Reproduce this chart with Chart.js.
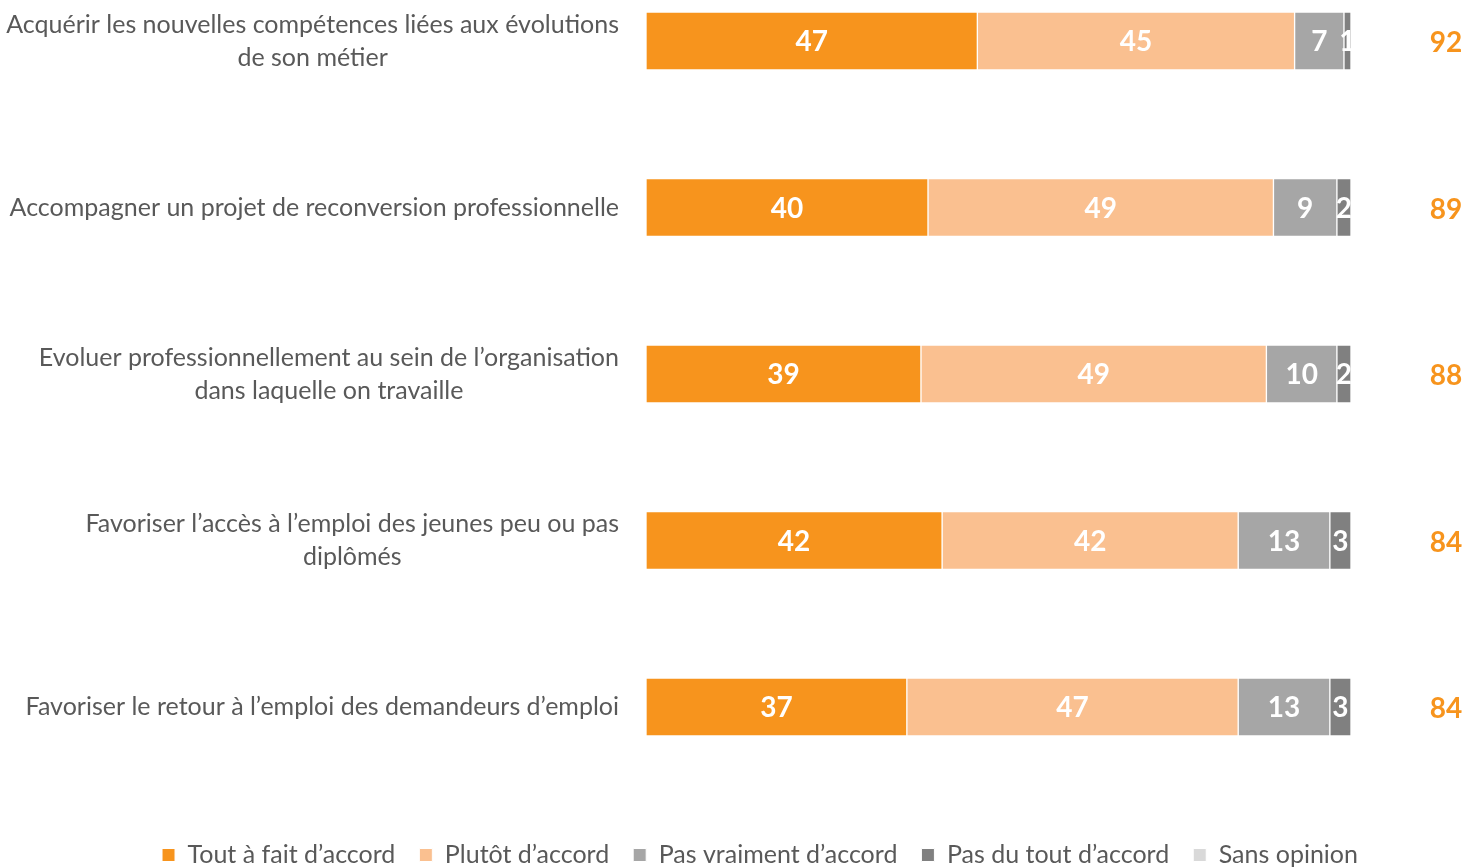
<!DOCTYPE html>
<html>
<head>
<meta charset="utf-8">
<script src="https://cdn.jsdelivr.net/npm/chart.js@4.4.0/dist/chart.umd.min.js"></script>
<style>
html,body{margin:0;padding:0;background:#fff;}
#wrap{width:1465px;height:867px;position:relative;}
</style>
</head>
<body>
<div id="wrap"><canvas id="c" width="1465" height="867"></canvas></div>
<script>
const categories = [
  ["Acquérir les nouvelles compétences liées aux évolutions", "de son métier"],
  ["Accompagner un projet de reconversion professionnelle"],
  ["Evoluer professionnellement au sein de l’organisation", "dans laquelle on travaille"],
  ["Favoriser l’accès à l’emploi des jeunes peu ou pas", "diplômés"],
  ["Favoriser le retour à l’emploi des demandeurs d’emploi"]
];
const seriesNames = ["Tout à fait d’accord", "Plutôt d’accord", "Pas vraiment d’accord", "Pas du tout d’accord", "Sans opinion"];
const toutAFait   = [47, 40, 39, 42, 37];
const plutot      = [45, 49, 49, 42, 47];
const pasVraiment = [7, 9, 10, 13, 13];
const pasDuTout   = [1, 2, 2, 3, 3];
const sansOpinion = [0, 0, 0, 0, 0];
const totals      = [92, 89, 88, 84, 84];
const colors = ["#F7941D", "#FAC090", "#A6A6A6", "#808080", "#D9D9D9"];

const FONT = "Lato";
const seriesData = [toutAFait, plutot, pasVraiment, pasDuTout, sansOpinion];

const textPlugin = {
  id: 'textPlugin',
  afterDatasetsDraw(chart) {
    const ctx = chart.ctx;
    const area = chart.chartArea;
    chart.data.datasets.forEach((ds, di) => {
      const meta = chart.getDatasetMeta(di);
      meta.data.forEach((bar, i) => {
        const v = ds.data[i];
        if (!v) return;
        const p = bar.getProps(['x', 'y', 'base', 'height'], true);
        const left = Math.min(p.x, p.base), right = Math.max(p.x, p.base);
        ctx.save();
        ctx.beginPath();
        ctx.rect(area.left, p.y - p.height / 2, area.right - area.left, p.height);
        ctx.clip();
        ctx.fillStyle = '#fff';
        ctx.font = 'bold 28px ' + FONT;
        ctx.textAlign = 'center';
        ctx.textBaseline = 'middle';
        ctx.fillText(String(v), (left + right) / 2, p.y + 1);
        ctx.restore();
      });
    });
    const yScale = chart.scales.y;
    ctx.save();
    ctx.font = '25px ' + FONT;
    ctx.fillStyle = '#595959';
    ctx.textBaseline = 'middle';
    ctx.textAlign = 'center';
    const lineH = 33;
    const rightX = area.left - 27;
    categories.forEach((lines, i) => {
      const y = yScale.getPixelForValue(i);
      const w = Math.max(...lines.map(l => ctx.measureText(l).width));
      const cx = rightX - w / 2;
      const y0 = y - (lines.length - 1) * lineH / 2;
      lines.forEach((l, k) => ctx.fillText(l, cx, y0 + k * lineH));
    });
    ctx.font = 'bold 28px ' + FONT;
    ctx.fillStyle = '#F7941D';
    totals.forEach((t, i) => {
      const y = yScale.getPixelForValue(i);
      ctx.fillText(String(t), area.right + 95, y + 2);
    });
    ctx.restore();
  }
};

new Chart(document.getElementById('c'), {
  type: 'bar',
  data: {
    labels: categories.map(c => c.join(' ')),
    datasets: seriesNames.map((name, k) => ({
      label: name,
      data: seriesData[k],
      backgroundColor: colors[k],
      borderColor: '#ffffff',
      borderWidth: 1,
      borderSkipped: false,
      barThickness: 58,
      clip: false
    }))
  },
  options: {
    indexAxis: 'y',
    responsive: false,
    animation: false,
    layout: { padding: { top: 41, left: 120, right: 65, bottom: 0 } },
    scales: {
      x: {
        stacked: true, min: 0, max: 100,
        ticks: { display: false },
        grid: { display: false },
        border: { display: false },
        afterFit: s => { s.height = 111.5; }
      },
      y: {
        stacked: true, offset: false,
        ticks: { display: false },
        grid: { display: false },
        border: { display: false },
        afterFit: s => { s.width = 526; }
      },
      y2: {
        type: 'category', position: 'right', offset: false,
        ticks: { display: false },
        grid: { display: false },
        border: { display: false },
        afterFit: s => { s.width = 49; }
      }
    },
    plugins: {
      tooltip: { enabled: false },
      legend: {
        position: 'bottom',
        maxHeight: 48.5,
        labels: {
          font: { family: FONT, size: 25 },
          color: '#595959',
          boxWidth: 13,
          boxHeight: 13,
          padding: 24
        }
      }
    }
  },
  plugins: [textPlugin]
});
</script>
</body>
</html>
